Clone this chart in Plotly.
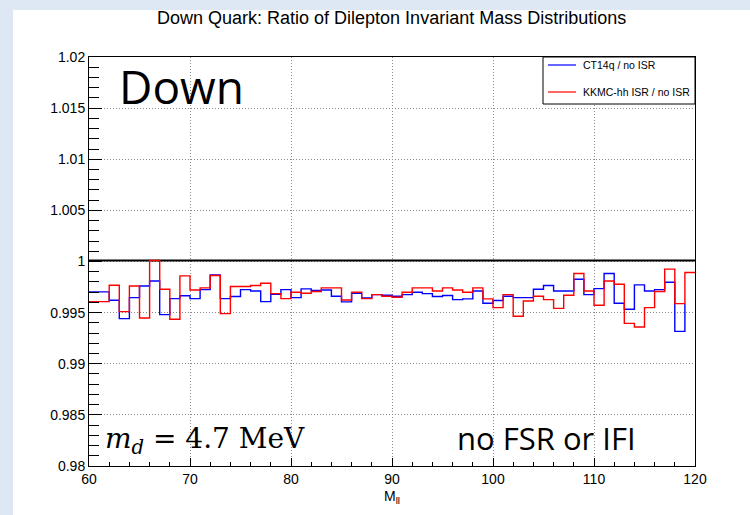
import plotly.graph_objects as go

# Bin edges: 60 bins of 1 GeV from 60 to 120
bin_low = list(range(60, 120))

ct14q_ratio = [
    0.99703, 0.99703, 0.99621, 0.99441, 0.99647, 0.99761, 0.99810, 0.99480, 0.99637, 0.99665,
    0.99637, 0.99725, 0.99869, 0.99637, 0.99657, 0.99725, 0.99712, 0.99608, 0.99680, 0.99725,
    0.99647, 0.99732, 0.99716, 0.99722, 0.99660, 0.99605, 0.99690, 0.99644, 0.99676, 0.99670,
    0.99660, 0.99676, 0.99699, 0.99686, 0.99657, 0.99667, 0.99627, 0.99634, 0.99712, 0.99591,
    0.99618, 0.99660, 0.99647, 0.99647, 0.99729, 0.99765, 0.99712, 0.99712, 0.99827, 0.99676,
    0.99735, 0.99882, 0.99591, 0.99533, 0.99771, 0.99712, 0.99725, 0.99797, 0.99317, 0.99588,
]

kkmc_ratio = [
    0.99608, 0.99608, 0.99768, 0.99510, 0.99761, 0.99448, 1.00010, 0.99729, 0.99435, 0.99859,
    0.99722, 0.99742, 0.99863, 0.99490, 0.99755, 0.99755, 0.99765, 0.99788, 0.99686, 0.99637,
    0.99699, 0.99690, 0.99706, 0.99742, 0.99742, 0.99624, 0.99699, 0.99637, 0.99676, 0.99660,
    0.99650, 0.99699, 0.99742, 0.99742, 0.99712, 0.99742, 0.99722, 0.99699, 0.99742, 0.99634,
    0.99549, 0.99676, 0.99464, 0.99614, 0.99660, 0.99627, 0.99542, 0.99670, 0.99882, 0.99712,
    0.99572, 0.99810, 0.99778, 0.99395, 0.99359, 0.99549, 0.99706, 0.99925, 0.99588, 0.99892,
]

reference_level = 1.0001

x_ticks = [60, 70, 80, 90, 100, 110, 120]
y_ticks = [0.98, 0.985, 0.99, 0.995, 1.0, 1.005, 1.01, 1.015, 1.02]
y_tick_text = ["0.98", "0.985", "0.99", "0.995", "1", "1.005", "1.01", "1.015", "1.02"]

series_names = ["CT14q / no ISR", "KKMC-hh ISR / no ISR"]
series_colors = ["#0000ff", "#ff0000"]

W, H = 750, 515
L, R, T, B = 89, 55, 57, 49
PW, PH = W - L - R, H - T - B


def px(x):
    return (x - L) / PW


def py(y):
    return (H - B - y) / PH


fig = go.Figure()

fig.add_trace(go.Scatter(
    x=[60, 120], y=[reference_level, reference_level], mode="lines",
    line=dict(color="black", width=2), showlegend=False, hoverinfo="skip"))

# blue: step line ends with the rise at the last bin edge
fig.add_trace(go.Scatter(
    x=bin_low, y=ct14q_ratio, mode="lines", line_shape="hv",
    line=dict(color=series_colors[0], width=1.4), name=series_names[0], showlegend=False))

fig.add_trace(go.Scatter(
    x=bin_low + [120], y=kkmc_ratio + [kkmc_ratio[-1]], mode="lines", line_shape="hv",
    line=dict(color=series_colors[1], width=1.4), name=series_names[1], showlegend=False))

shapes = [
    # slide background white area
    dict(type="rect", xref="paper", yref="paper", x0=px(13), x1=px(W), y0=py(H), y1=py(10),
         fillcolor="white", line=dict(width=0), layer="below"),
    # legend box
    dict(type="rect", xref="paper", yref="paper", x0=px(543), x1=px(695), y0=py(104), y1=py(57),
         fillcolor="white", line=dict(color="black", width=1), layer="above"),
]
annotations = []
for i, (nm, col) in enumerate(zip(series_names, series_colors)):
    yy = 65 + i * 27
    shapes.append(dict(type="line", xref="paper", yref="paper", x0=px(548), x1=px(576),
                       y0=py(yy), y1=py(yy), line=dict(color=col, width=1.2), layer="above"))
    annotations.append(dict(xref="paper", yref="paper", x=px(581), y=py(yy), text=nm,
                            showarrow=False, xanchor="left", yanchor="middle",
                            font=dict(family="Liberation Sans", size=10.5, color="black")))

annotations += [
    dict(xref="paper", yref="paper", x=px(391), y=py(18), text="Down Quark: Ratio of Dilepton Invariant Mass Distributions",
         showarrow=False, xanchor="center", yanchor="middle",
         font=dict(family="Liberation Sans", size=18, color="black")),
    dict(xref="paper", yref="paper", x=px(392), y=py(497), text="M<sub>ll</sub>",
         showarrow=False, xanchor="center", yanchor="middle",
         font=dict(family="Liberation Sans", size=14, color="black")),
    dict(xref="paper", yref="paper", x=px(117), y=py(86), text="Down",
         showarrow=False, xanchor="left", yanchor="middle",
         font=dict(family="Open Sans", size=46, color="black")),
    dict(xref="paper", yref="paper", x=px(103), y=py(440), text="<i>m</i><sub><i>d</i></sub> = 4.7 MeV",
         showarrow=False, xanchor="left", yanchor="middle",
         font=dict(family="DejaVu Serif", size=28, color="black")),
    dict(xref="paper", yref="paper", x=px(455), y=py(438), text="no FSR or IFI",
         showarrow=False, xanchor="left", yanchor="middle",
         font=dict(family="Open Sans", size=31, color="black")),
]

grid_style = dict(showgrid=True, gridcolor="#8a8a8a", griddash="1px,2px", gridwidth=1, zeroline=False)

fig.update_layout(
    width=W, height=H,
    margin=dict(l=L, r=R, t=T, b=B),
    paper_bgcolor="#dde8f4", plot_bgcolor="white",
    shapes=shapes, annotations=annotations,
    xaxis=dict(range=[60, 120], tickvals=x_ticks, ticks="inside", ticklen=8, tickcolor="black",
               showline=True, linecolor="black", linewidth=1, mirror=True, **grid_style,
               tickfont=dict(family="Liberation Sans", size=14, color="black"),
               minor=dict(dtick=2, ticks="inside", ticklen=4, tickcolor="black", showgrid=False)),
    yaxis=dict(range=[0.98, 1.02], tickvals=y_ticks, ticktext=y_tick_text, ticks="inside",
               ticklen=13, tickcolor="black",
               showline=True, linecolor="black", linewidth=1, mirror=True, **grid_style,
               tickfont=dict(family="Liberation Sans", size=14, color="black"),
               minor=dict(dtick=0.001, tick0=0.98, ticks="inside", ticklen=10, tickcolor="black", showgrid=False)),
)

fig.write_html("out.html")
